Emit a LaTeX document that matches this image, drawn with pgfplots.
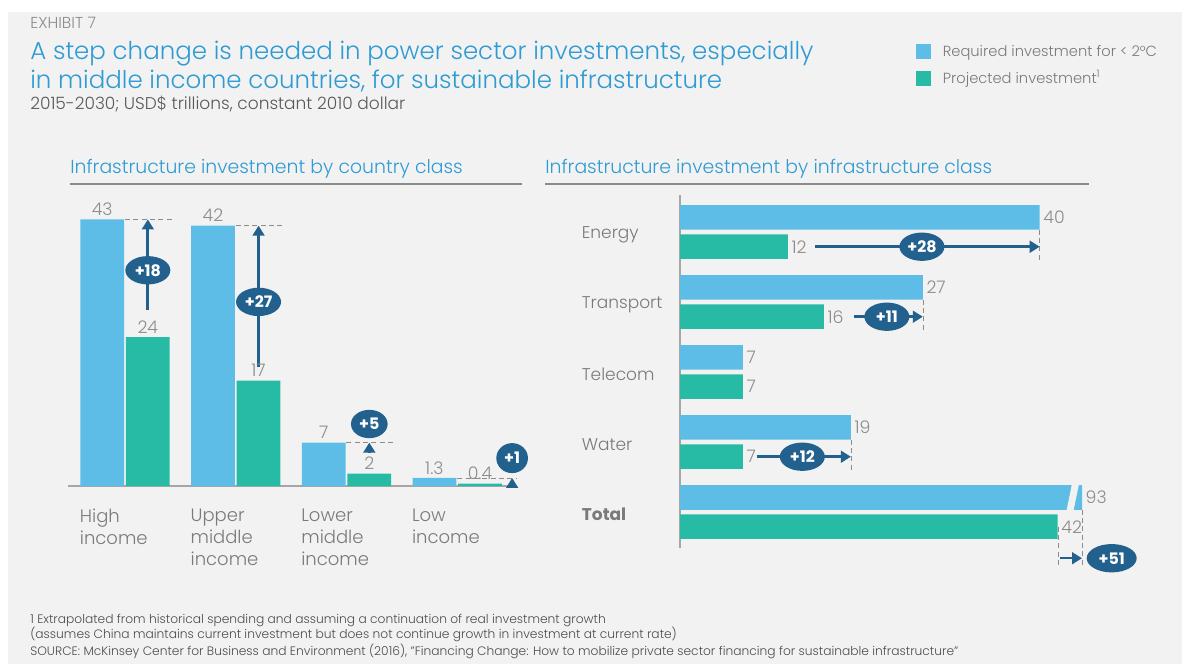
\documentclass[border=0pt]{standalone}
\usepackage{fontspec}
\IfFontExistsTF{Poppins Light}
  {\setmainfont{Poppins}[UprightFont=* Light, BoldFont=* Bold]}
  {\setmainfont{Poppins}}
\usepackage{pgfplots}
\pgfplotsset{compat=1.18}
\usetikzlibrary{arrows.meta,shapes.geometric}
\definecolor{bg}{HTML}{F2F2F2}
\definecolor{reqblue}{HTML}{5DBDE7}
\definecolor{projteal}{HTML}{27BBA6}
\definecolor{dkblue}{HTML}{22618E}
\definecolor{ttlblue}{HTML}{2F9BD3}
\definecolor{valgray}{HTML}{8C8C8C}
\definecolor{txtgray}{HTML}{7A7A7A}
\definecolor{rulegray}{HTML}{8A8A8A}

\tikzset{
  delta/.style={ellipse, fill=dkblue, text=white, inner sep=0pt,
    minimum width=27pt, minimum height=17pt,
    font=\fontsize{9.5}{10}\selectfont\bfseries},
  gap/.style={draw=valgray, densely dashed, line width=0.4pt},
  up/.style={draw=dkblue, line width=1.8pt, -{Triangle[width=7pt,length=6pt]}},
}

\begin{document}
\begin{tikzpicture}
\useasboundingbox (0,0) rectangle (711pt,-398.4pt);
\begin{scope}[x=0.6pt,y=-0.6pt]
\fill[white] (0,0) rectangle (1185,664);
\fill[bg] (8,12) rectangle (1182,664);
\node[anchor=base west, inner sep=0, text=valgray, font=\fontsize{9.5}{11}\selectfont] at (30,29) {EXHIBIT 7};
\node[anchor=base west, inner sep=0, text=ttlblue, font=\fontsize{14.7}{17}\selectfont] at (30,60) {A step change is needed in power sector investments, especially};
\node[anchor=base west, inner sep=0, text=ttlblue, font=\fontsize{14.7}{17}\selectfont] at (30,89) {in middle income countries, for sustainable infrastructure};
\node[anchor=base west, inner sep=0, text=black!65, font=\fontsize{10.2}{12}\selectfont] at (30,110) {2015-2030; USD\$ trillions, constant 2010 dollar};
\node[anchor=base west, inner sep=0, text=ttlblue, font=\fontsize{11.3}{13}\selectfont] at (70,173) {Infrastructure investment by country class};
\node[anchor=base west, inner sep=0, text=ttlblue, font=\fontsize{11.3}{13}\selectfont] at (545,173) {Infrastructure investment by infrastructure class};
\draw[rulegray, line width=0.9pt] (70,184) -- (522,184);
\draw[rulegray, line width=0.9pt] (545,184) -- (1089,184);
\node[anchor=base west, inner sep=0, text=black!70, font=\fontsize{7.35}{8}\selectfont] at (30,623) {1 Extrapolated from historical spending and assuming a continuation of real investment growth};
\node[anchor=base west, inner sep=0, text=black!70, font=\fontsize{7.35}{8}\selectfont] at (30,638) {(assumes China maintains current investment but does not continue growth in investment at current rate)};
\node[anchor=base west, inner sep=0, text=black!70, font=\fontsize{7.35}{8}\selectfont] at (30,655) {SOURCE: McKinsey Center for Business and Environment (2016), "Financing Change: How to mobilize private sector financing for sustainable infrastructure"};
\end{scope}

% left panel: country class
\begin{axis}[
  at={(40.8pt,-291.6pt)}, anchor=south west,
  scale only axis, width=269.4pt, height=174.6pt,
  xmin=-0.515, xmax=3.54, ymin=0, ymax=46.94,
  axis x line*=bottom, axis y line=none,
  axis line style={draw=black!35, line width=1.5pt},
  ybar, bar width=0.395,
  xtick={0,1,2,3}, major tick length=0pt,
  xticklabels={{High\\income},{Upper\\middle\\income},{Lower\\middle\\income},{Low\\income}},
  x tick label style={align=left, anchor=north west, xshift=-30.6pt, yshift=-10pt,
    text=txtgray, font=\fontsize{10.8}{13.2}\selectfont},
  nodes near coords, point meta=explicit symbolic,
  every node near coord/.append style={text=valgray, anchor=south,
    font=\fontsize{10.4}{12}\selectfont, inner sep=2pt},
  clip=false,
]
\addplot[fill=reqblue, draw=none, bar shift=-0.206] coordinates
  {(0,43)[43] (1,42)[42] (2,7)[7] (3,1.3)[1.3]};
\addplot[fill=projteal, draw=none, bar shift=0.206] coordinates
  {(0,24)[24] (1,17)[17] (2,2)[2] (3,0.4)[0.4]};
\draw[gap] (axis cs:0,43) -- (axis cs:0.42,43);
\draw[gap] (axis cs:1,42) -- (axis cs:1.42,42);
\draw[gap] (axis cs:2,7) -- (axis cs:2.42,7);
\draw[gap] (axis cs:3,1.3) -- (axis cs:3.54,1.3);
\draw[up] (axis cs:0.206,28.4) -- (axis cs:0.206,43);
\draw[up] (axis cs:1.206,19.2) -- (axis cs:1.206,42);
\draw[up] (axis cs:2.206,5.4) -- (axis cs:2.206,7);
\draw[up] (axis cs:3.496,0) -- (axis cs:3.496,1.3);
\node[delta] at (axis cs:0.206,34.8) {+18};
\node[delta] at (axis cs:1.206,29.7) {+27};
\node[delta, minimum width=22pt] at (axis cs:2.206,10.0) {+5};
\node[delta, minimum width=19pt, minimum height=18pt] at (axis cs:3.496,4.5) {+1};
\end{axis}

% right panel: infrastructure class
\begin{axis}[
  at={(408pt,-328.8pt)}, anchor=south west,
  scale only axis, width=241.2pt, height=211.8pt,
  xmin=0, xmax=44.7, ymin=-0.514, ymax=4.529,
  axis y line*=left, axis x line=none,
  axis line style={draw=black!35, line width=1.5pt},
  xbar, bar width=0.35,
  ytick={0,1,2,3,4}, major tick length=0pt,
  yticklabels={\textbf{Total},Water,Telecom,Transport,Energy},
  y tick label style={anchor=west, xshift=-62.4pt, yshift=-1.5pt, text=txtgray,
    font=\fontsize{10.2}{12}\selectfont},
  nodes near coords, point meta=explicit symbolic,
  every node near coord/.append style={text=valgray, anchor=west,
    font=\fontsize{10.4}{12}\selectfont, inner sep=2pt},
  clip mode=individual,
  legend style={at={(0.575,1.445)}, anchor=north west, draw=none, fill=none,
    font=\fontsize{8.8}{10}\selectfont, text=txtgray, row sep=3pt,
    cells={anchor=west}},
  legend image code/.code={\fill[#1] (0pt,-4.5pt) rectangle (9pt,4.5pt); \path (13.8pt,0pt);},
]
\addplot[fill=reqblue, draw=none, bar shift=0.21] coordinates
  {(40,4)[40] (27,3)[27] (7,2)[7] (19,1)[19]};
\addlegendentry{Required investment for < 2°C}
\addplot[fill=reqblue, draw=none, bar shift=0.21, forget plot, nodes near coords=] coordinates
  {(93,0)[93]};
\addplot[fill=projteal, draw=none, bar shift=-0.21] coordinates
  {(12,4)[12] (16,3)[16] (7,2)[7] (7,1)[7] (42,0)[42]};
\addlegendentry{Projected investment\textsuperscript{1}}
% axis break on the total bar
\fill[bg] (axis cs:43.58,0.40) -- (axis cs:44.36,0.40) -- (axis cs:43.76,0.02) -- (axis cs:42.98,0.02) -- cycle;
\node[anchor=west, text=valgray, font=\fontsize{10.4}{12}\selectfont, inner sep=2pt] at (axis cs:44.7,0.21) {93};
\draw[gap] (axis cs:40,4.035) -- (axis cs:40,3.6);
\draw[gap] (axis cs:27,3.035) -- (axis cs:27,2.6);
\draw[gap] (axis cs:19,1.035) -- (axis cs:19,0.6);
\draw[gap] (axis cs:42.1,-0.21) -- (axis cs:42.1,-0.76);
\draw[gap] (axis cs:44.7,0.035) -- (axis cs:44.7,-0.76);
\draw[up, line width=1.5pt] (axis cs:15.0,3.79) -- (axis cs:40,3.79);
\draw[up, line width=1.5pt] (axis cs:19.3,2.79) -- (axis cs:27,2.79);
\draw[up, line width=1.5pt] (axis cs:8.6,0.79) -- (axis cs:19,0.79);
\draw[up, line width=1.5pt] (axis cs:42.2,-0.66) -- (axis cs:44.7,-0.66);
\node[delta] at (axis cs:26.9,3.79) {+28};
\node[delta] at (axis cs:23.0,2.79) {+11};
\node[delta] at (axis cs:13.6,0.79) {+12};
\node[delta, minimum width=30pt] at (axis cs:48.0,-0.66) {+51};
\end{axis}
\end{tikzpicture}
\end{document}
